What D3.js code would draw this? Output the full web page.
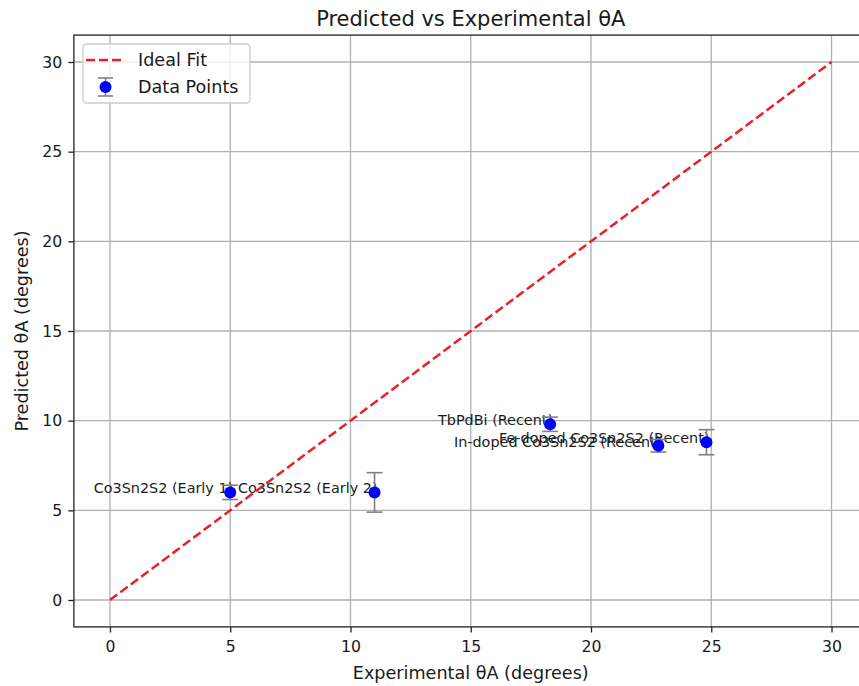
<!DOCTYPE html>
<html>
<head>
<meta charset="utf-8">
<script src="https://cdn.jsdelivr.net/npm/d3@7/dist/d3.min.js"></script>
<style>
  html, body { margin: 0; padding: 0; background: #fff; }
  svg { display: block; font-family: "DejaVu Sans", sans-serif; }
</style>
</head>
<body>
<svg id="chart" width="859" height="686"></svg>
<script>
// Materials and their experimental / predicted anomalous Hall angles (degrees)
const materials = [
  "Co3Sn2S2 (Early 1)",
  "Co3Sn2S2 (Early 2)",
  "TbPdBi (Recent)",
  "In-doped Co3Sn2S2 (Recent)",
  "Fe-doped Co3Sn2S2 (Recent)"
];
const experimental = [5.0, 11.0, 18.3, 22.8, 24.8];
const predicted = [6.0, 6.0, 9.8, 8.6, 8.8];
const predictedErr = [0.4, 1.1, 0.4, 0.35, 0.7];

// Reference line y = x
const idealFit = [0, 30];

const xTicks = [0, 5, 10, 15, 20, 25, 30];
const yTicks = [0, 5, 10, 15, 20, 25, 30];

const svg = d3.select("#chart");

const plot = { left: 73.9, right: 867.6, top: 35.1, bottom: 626.9 };

const x = d3.scaleLinear().domain([-1.5, 31.5]).range([plot.left, plot.right]);
const y = d3.scaleLinear().domain([-1.5, 31.5]).range([plot.bottom, plot.top]);

const textColor = "#1a1a1a";
const fitColor = "#e8202a";

// Grid
const grid = svg.append("g");
grid.selectAll("line.gx").data(xTicks).join("line")
  .attr("x1", d => x(d)).attr("x2", d => x(d))
  .attr("y1", plot.top).attr("y2", plot.bottom)
  .attr("stroke", "#b0b0b0").attr("stroke-width", 1.3);
grid.selectAll("line.gy").data(yTicks).join("line")
  .attr("x1", plot.left).attr("x2", plot.right)
  .attr("y1", d => y(d)).attr("y2", d => y(d))
  .attr("stroke", "#b0b0b0").attr("stroke-width", 1.3);

// Point labels (right-aligned at each point)
const pts = materials.map((m, i) => ({
  name: m, ex: experimental[i], pr: predicted[i], err: predictedErr[i]
}));

svg.append("g").selectAll("text").data(pts).join("text")
  .attr("x", d => x(d.ex) + 3)
  .attr("y", d => y(d.pr) + 1)
  .attr("text-anchor", "end")
  .attr("font-size", 14.4)
  .attr("fill", textColor)
  .text(d => d.name);

// Ideal fit line
svg.append("line")
  .attr("x1", x(idealFit[0])).attr("y1", y(idealFit[0]))
  .attr("x2", x(idealFit[1])).attr("y2", y(idealFit[1]))
  .attr("stroke", fitColor).attr("stroke-width", 2.5)
  .attr("stroke-dasharray", "9,4");

// Error bars
const eb = svg.append("g").attr("stroke", "#808080").attr("stroke-width", 1.6);
eb.selectAll("line.v").data(pts).join("line")
  .attr("x1", d => x(d.ex)).attr("x2", d => x(d.ex))
  .attr("y1", d => y(d.pr - d.err)).attr("y2", d => y(d.pr + d.err));
eb.selectAll("line.lo").data(pts).join("line")
  .attr("x1", d => x(d.ex) - 8).attr("x2", d => x(d.ex) + 8)
  .attr("y1", d => y(d.pr - d.err)).attr("y2", d => y(d.pr - d.err));
eb.selectAll("line.hi").data(pts).join("line")
  .attr("x1", d => x(d.ex) - 8).attr("x2", d => x(d.ex) + 8)
  .attr("y1", d => y(d.pr + d.err)).attr("y2", d => y(d.pr + d.err));

// Markers
svg.append("g").selectAll("circle").data(pts).join("circle")
  .attr("cx", d => x(d.ex)).attr("cy", d => y(d.pr))
  .attr("r", 6).attr("fill", "#0000ff");

// Axes (spines + ticks)
const xAxis = d3.axisBottom(x).tickValues(xTicks).tickFormat(d3.format("d"))
  .tickSize(5.6).tickPadding(8);
const yAxis = d3.axisLeft(y).tickValues(yTicks).tickFormat(d3.format("d"))
  .tickSize(5.6).tickPadding(6);

const gx = svg.append("g").attr("transform", `translate(0,${plot.bottom})`).call(xAxis);
const gy = svg.append("g").attr("transform", `translate(${plot.left},0)`).call(yAxis);
[gx, gy].forEach(g => {
  g.select(".domain").remove();
  g.selectAll(".tick line").attr("stroke", "#222").attr("stroke-width", 1.3);
  g.selectAll(".tick text").attr("font-size", 15.7).attr("fill", textColor)
    .attr("font-family", "DejaVu Sans, sans-serif");
});

svg.append("rect")
  .attr("x", plot.left).attr("y", plot.top)
  .attr("width", plot.right - plot.left).attr("height", plot.bottom - plot.top)
  .attr("fill", "none").attr("stroke", "#222").attr("stroke-width", 1.3);

// Title and axis labels
svg.append("text")
  .attr("x", (plot.left + plot.right) / 2).attr("y", 26)
  .attr("text-anchor", "middle").attr("font-size", 21).attr("fill", textColor)
  .text("Predicted vs Experimental θA");

svg.append("text")
  .attr("x", (plot.left + plot.right) / 2).attr("y", 679)
  .attr("text-anchor", "middle").attr("font-size", 17.6).attr("fill", textColor)
  .text("Experimental θA (degrees)");

svg.append("text")
  .attr("transform", `translate(28,${(plot.top + plot.bottom) / 2}) rotate(-90)`)
  .attr("text-anchor", "middle").attr("font-size", 17.6).attr("fill", textColor)
  .text("Predicted θA (degrees)");

// Legend
const lg = svg.append("g");
lg.append("rect")
  .attr("x", 83).attr("y", 44).attr("width", 167).attr("height", 59)
  .attr("rx", 3.5).attr("fill", "#fff").attr("fill-opacity", 0.8)
  .attr("stroke", "#cccccc").attr("stroke-width", 1.3);
lg.append("line")
  .attr("x1", 86).attr("x2", 125).attr("y1", 60).attr("y2", 60)
  .attr("stroke", fitColor).attr("stroke-width", 2.5)
  .attr("stroke-dasharray", "9,4");
lg.append("text").attr("x", 138).attr("y", 66)
  .attr("font-size", 17.6).attr("fill", textColor).text("Ideal Fit");

const lgEb = lg.append("g").attr("stroke", "#808080").attr("stroke-width", 1.6);
lgEb.append("line").attr("x1", 105.5).attr("x2", 105.5).attr("y1", 78).attr("y2", 96);
lgEb.append("line").attr("x1", 98).attr("x2", 113).attr("y1", 78).attr("y2", 78);
lgEb.append("line").attr("x1", 98).attr("x2", 113).attr("y1", 96).attr("y2", 96);
lg.append("circle").attr("cx", 105.5).attr("cy", 87).attr("r", 6).attr("fill", "#0000ff");
lg.append("text").attr("x", 138).attr("y", 93)
  .attr("font-size", 17.6).attr("fill", textColor).text("Data Points");
</script>
</body>
</html>
